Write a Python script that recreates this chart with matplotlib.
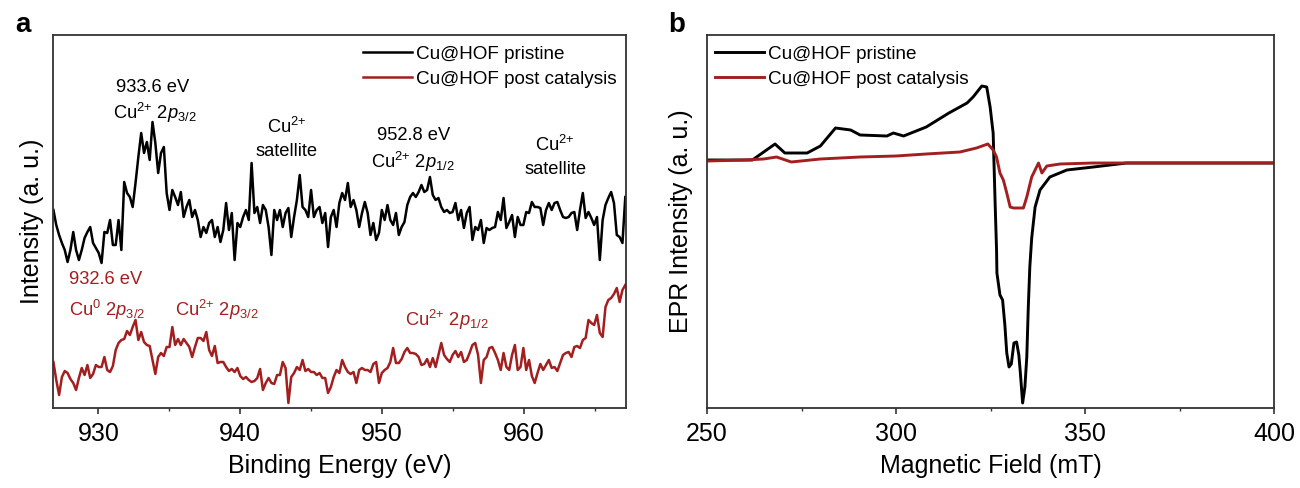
import matplotlib
matplotlib.use("Agg")
import matplotlib.pyplot as plt
import numpy as np

plt.rcParams['font.family'] = ['Liberation Sans', 'DejaVu Sans']
plt.rcParams['mathtext.fontset'] = 'custom'
plt.rcParams['mathtext.rm'] = 'Liberation Sans'
plt.rcParams['mathtext.it'] = 'Liberation Sans:italic'

# --- XPS Cu 2p (panel a), 0.2 eV steps from 926.8 to 967.2 eV ---
xps_start, xps_end = 926.83, 967.15
xps_pristine = [
    198, 183, 173, 165, 158, 146, 158, 176, 158, 148,
    158, 170, 176, 181, 165, 160, 155, 145, 176, 175,
    188, 163, 163, 188, 158, 226, 215, 211, 201, 225,
    251, 275, 255, 266, 248, 286, 265, 235, 255, 261,
    215, 198, 218, 211, 203, 216, 191, 201, 208, 191,
    198, 188, 171, 181, 175, 185, 188, 171, 181, 166,
    178, 205, 178, 195, 148, 185, 181, 191, 198, 188,
    245, 195, 201, 185, 203, 198, 181, 153, 198, 188,
    198, 181, 195, 200, 171, 191, 208, 233, 201, 198,
    191, 218, 191, 198, 201, 185, 195, 161, 191, 198,
    181, 205, 215,
    208, 225, 201, 208, 198, 181, 195, 206, 195, 173,
    185, 168, 175, 198, 188, 203, 188, 183, 195, 173,
    181, 186, 203, 211, 215, 211, 216, 223, 216, 218,
    231, 213, 208, 210, 201, 196, 198, 195, 196, 205,
    188, 198, 180, 195, 201, 168, 181, 178, 188, 165,
    180, 178, 180, 181, 196, 188, 210, 180, 186, 193,
    171, 191, 183, 183, 196, 195, 206, 201, 201, 200,
    183, 198, 205, 198, 205, 206, 198, 191, 190, 191,
    195, 196, 178, 198, 215, 190, 196, 190, 183, 191,
    148, 188, 203, 210, 216, 205, 173, 171, 165, 211,
]
xps_post = [
    46, 28, 13, 31, 37, 35, 29, 25, 18, 30,
    40, 33, 43, 30, 34, 43, 41, 41, 51, 38,
    36, 42, 58, 65, 68, 69, 77, 73, 81, 88,
    68, 76, 66, 63, 62, 48, 34, 51, 55, 52,
    61, 61, 81, 63, 69, 63, 69, 65, 61, 51,
    61, 70, 70, 67, 76, 58, 52, 62, 45, 46,
    46, 41, 37, 39, 36, 40, 32, 29, 31, 28,
    26, 27, 30, 39, 18, 25, 30, 25, 24, 33,
    33, 46, 40, 5, 31, 35, 41, 38, 48, 37,
    39, 36, 36, 33, 35, 30, 30, 15, 21, 31,
    38, 35, 48,
    41, 36, 34, 36, 25, 38, 40, 38, 38, 36,
    44, 46, 25, 35, 38, 40, 46, 60, 45, 45,
    49, 56, 60, 55, 55, 54, 51, 43, 44, 49,
    41, 50, 41, 53, 65, 53, 49, 46, 53, 57,
    51, 56, 46, 48, 55, 63, 65, 53, 25, 48,
    51, 60, 61, 55, 48, 38, 55, 41, 38, 53,
    63, 38, 41, 60, 38, 48, 32, 25, 35, 44,
    38, 43, 48, 40, 41, 37, 45, 53, 55, 56,
    51, 61, 62, 60, 68, 70, 88, 85, 83, 93,
    75, 71, 101, 108, 110, 114, 120, 106, 118, 123,
]
xps_energy = np.linspace(xps_start, xps_end, len(xps_pristine))

# --- EPR (panel b) ---
epr_field_pristine = [250.0, 262.0, 265.0, 268.0, 270.6, 276.5, 280.0, 284.0, 288.0,
                      290.5, 297.6, 299.3, 302.0, 308.0, 314.0, 318.8, 320.4, 322.7,
                      324.0, 324.9, 325.7, 326.2, 326.6, 326.7, 327.5, 328.2, 328.8,
                      329.3, 329.9, 330.5, 331.2, 331.9, 332.5, 332.9, 333.5, 334.1,
                      334.6, 335.0, 335.4, 335.9, 336.8, 338.1, 340.7, 345.2, 352.2,
                      361.0, 370.0, 400.0]
epr_pristine = [248, 248, 256, 264, 255, 255, 262, 280, 278,
                273, 272, 275, 272, 281, 295, 305, 311, 322,
                321, 301, 275, 208, 158, 135, 113, 108, 83,
                55, 41, 44, 65, 66, 53, 35, 5, 21,
                51, 101, 141, 170, 201, 218, 231, 238, 241,
                245, 245, 245]
epr_field_post = [250.0, 260.0, 265.0, 268.4, 272.3, 280.0, 290.5, 300.0, 308.0,
                  316.9, 321.3, 324.3, 325.7, 326.6, 327.5, 328.4, 329.3, 330.2,
                  331.1, 333.7, 334.6, 335.9, 337.7, 338.6, 339.9, 343.4, 352.2, 400.0]
epr_post = [247, 248, 249, 251, 246, 249, 251, 252, 254,
            256, 260, 264, 258, 251, 235, 228, 215, 201,
            200, 200, 211, 231, 245, 235, 242, 244, 245, 245]

red = '#a31f1f'
lab_fs = 18
ann_fs = 13.2
cu2 = r'Cu$^{2{+}}$'

fig = plt.figure(figsize=(13, 4.88), dpi=100)
ax1 = fig.add_axes([53 / 1300, 1 - 408 / 488, 573 / 1300, 373 / 488])
ax2 = fig.add_axes([707 / 1300, 1 - 408 / 488, 567 / 1300, 373 / 488])

ax1.plot(xps_energy, xps_pristine, color='black', lw=1.8, label='Cu@HOF pristine')
ax1.plot(xps_energy, xps_post, color=red, lw=1.8, label='Cu@HOF post catalysis')
ax1.set_xlim(926.8, 967.2)
ax1.set_ylim(0, 373)
ax1.set_xticks([930, 940, 950, 960])
ax1.set_xticks([935, 945, 955, 965], minor=True)
ax1.set_xlabel('Binding Energy (eV)', fontsize=lab_fs)
ax1.set_ylabel('Intensity (a. u.)', fontsize=lab_fs)
ax1.yaxis.set_label_coords(-0.016, 0.5)

ax1.text(933.8, 321, '933.6 eV', ha='center', va='center', fontsize=ann_fs)
ax1.text(934.0, 295, cu2 + r' 2$\mathit{p}_{3/2}$', ha='center', va='center', fontsize=ann_fs)
ax1.text(943.3, 281, cu2, ha='center', va='center', fontsize=ann_fs)
ax1.text(943.3, 256, 'satellite', ha='center', va='center', fontsize=ann_fs)
ax1.text(952.2, 273, '952.8 eV', ha='center', va='center', fontsize=ann_fs)
ax1.text(952.2, 246, cu2 + r' 2$\mathit{p}_{1/2}$', ha='center', va='center', fontsize=ann_fs)
ax1.text(962.2, 263, cu2, ha='center', va='center', fontsize=ann_fs)
ax1.text(962.2, 238, 'satellite', ha='center', va='center', fontsize=ann_fs)
ax1.text(927.9, 129, '932.6 eV', ha='left', va='center', fontsize=ann_fs, color=red)
ax1.text(927.9, 98, r'Cu$^{0}$ 2$\mathit{p}_{3/2}$', ha='left', va='center', fontsize=ann_fs, color=red)
ax1.text(935.4, 98, cu2 + r' 2$\mathit{p}_{3/2}$', ha='left', va='center', fontsize=ann_fs, color=red)
ax1.text(951.6, 88, cu2 + r' 2$\mathit{p}_{1/2}$', ha='left', va='center', fontsize=ann_fs, color=red)

leg_kw = dict(loc='upper left', frameon=False, fontsize=13.6, handlelength=2.6,
              handletextpad=0.2, labelspacing=0.42, borderpad=0, borderaxespad=0)
ax1.legend(bbox_to_anchor=(0.541, 0.972), **leg_kw)

ax2.plot(epr_field_pristine, epr_pristine, color='black', lw=2.1, label='Cu@HOF pristine')
ax2.plot(epr_field_post, epr_post, color=red, lw=2.1, label='Cu@HOF post catalysis')
ax2.set_xlim(250, 400)
ax2.set_ylim(0, 373)
ax2.set_xticks([250, 300, 350, 400])
ax2.set_xticks([275, 325, 375], minor=True)
ax2.set_xlabel('Magnetic Field (mT)', fontsize=lab_fs)
ax2.set_ylabel('EPR Intensity (a. u.)', fontsize=lab_fs)
ax2.yaxis.set_label_coords(-0.025, 0.5)
ax2.legend(bbox_to_anchor=(0.014, 0.972), **leg_kw)

for ax in (ax1, ax2):
    ax.set_yticks([])
    for s in ax.spines.values():
        s.set_color('#333333')
        s.set_linewidth(1.3)
    ax.tick_params(axis='x', which='major', direction='out', length=4, width=1.2,
                   color='#333333', labelsize=lab_fs, pad=6)
    ax.tick_params(axis='x', which='minor', direction='out', length=2.5, width=1.0,
                   color='#333333')
    ax.xaxis.labelpad = 6

fig.text(15 / 1300, 1 - 25 / 488, 'a', fontsize=20, fontweight='bold', ha='left', va='center')
fig.text(668 / 1300, 1 - 25 / 488, 'b', fontsize=20, fontweight='bold', ha='left', va='center')

fig.savefig('out.png', dpi=100)
